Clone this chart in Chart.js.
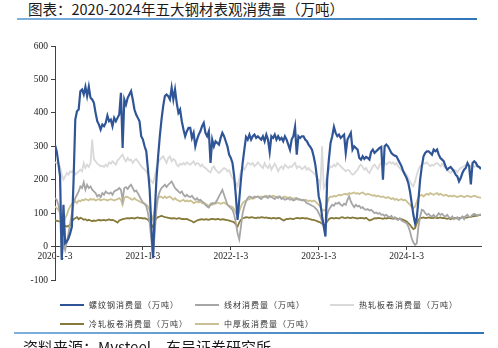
<!DOCTYPE html>
<html lang="zh-CN">
<head>
    <meta charset="UTF-8">
    <title>五大钢材表观消费量</title>
    <script src="https://cdn.jsdelivr.net/npm/chart.js"></script>
    <style>
        html, body { margin: 0; padding: 0; }
        body { width: 498px; height: 348px; overflow: hidden; background: #fff; position: relative; font-family: "Noto Sans CJK SC", sans-serif; }
        .title { position: absolute; left: 28px; top: -2px; font-size: 14.5px; color: #1a1a1a; white-space: nowrap; }
        .rule { position: absolute; height: 2px; background: linear-gradient(to right, #7fb0de, #2e75b6); }
        .rule.top { left: 17px; top: 18px; width: 460px; }
        .rule.bottom { left: 14px; top: 332px; width: 470px; }
        .source { position: absolute; left: 23px; top: 336px; font-size: 15px; color: #1a1a1a; white-space: nowrap; }
        .chart-box { position: absolute; left: 0; top: 30px; width: 498px; height: 268px; }
        #legend { position: absolute; left: 60px; top: 295px; display: grid; grid-template-columns: 135px 135px 135px; grid-auto-rows: 19px; }
        .item { display: flex; align-items: center; font-size: 8px; letter-spacing: 1px; color: #333; white-space: nowrap; }
        .item i { display: inline-block; width: 24px; height: 2px; margin-right: 5px; }
    </style>
</head>
<body>
    <div class="title">图表：2020-2024年五大钢材表观消费量（万吨）</div>
    <div class="rule top"></div>

    <div class="chart-box"><canvas id="steelChart" width="498" height="268"></canvas></div>
    <div id="legend"></div>

    <div class="rule bottom"></div>
    <div class="source">资料来源：Mysteel，东吴证券研究所</div>

    <script>
        // 周度数据，第 0 周为 2020-1-3
        const tickLabels = ['2020-1-3', '2021-1-3', '2022-1-3', '2023-1-3', '2024-1-3'];
        const tickWeeks = [0, 52, 104, 156, 208];

        const rebar = [
            304,285,250,210,-40,125,10,15,25,40, 60,200,380,405,410,465,470,455,478,450,
            478,445,440,430,400,375,365,350,365,360, 370,392,375,380,360,385,375,385,395,460,
            295,440,425,445,455,465,440,410,395,385, 375,330,320,300,285,230,170,60,-35,100,
            200,270,330,380,420,450,455,450,440,475, 440,470,430,400,410,375,350,330,345,355,
            355,325,340,300,320,335,345,360,370,340, 330,345,250,320,300,315,310,305,325,340,
            330,315,300,275,265,250,210,150,80,140, 200,250,290,328,320,335,320,330,335,325,
            330,325,320,330,315,335,320,283,330,325, 335,320,330,320,325,315,330,320,305,290,
            320,330,358,275,330,325,330,330,320,315, 305,298,290,270,245,205,150,130,90,60,
            30,200,260,310,330,358,340,330,335,325, 330,335,280,320,330,340,290,300,295,290,
            265,260,270,262,268,265,260,283,290,280, 285,290,295,298,200,300,305,300,290,280,
            275,272,270,260,250,240,225,215,205,190, 165,130,95,70,85,140,200,240,270,280,
            285,285,280,275,290,285,290,275,265,260, 255,240,230,235,238,232,225,215,210,195,
            205,220,230,235,250,240,186,250,255,250, 240,238,232
        ];
        const wireRod = [
            145,140,125,100,-35,10,-10,15,40,70, 100,130,145,155,165,180,175,192,170,185,
            175,180,170,165,160,150,155,148,160,155, 165,160,158,162,155,165,168,170,175,170,
            140,175,178,172,180,185,175,165,168,160, 150,140,132,128,120,100,70,20,-30,40,
            110,150,165,175,180,185,178,185,190,195, 185,175,170,165,160,165,155,150,155,150,
            148,152,145,140,145,138,140,135,130,125, 120,117,125,130,128,132,140,150,160,170,
            155,140,125,120,115,110,95,70,40,22, 60,100,120,135,145,150,148,145,150,148,
            150,145,142,148,150,148,145,152,148,145, 142,148,145,150,142,145,140,142,145,140,
            142,138,140,145,142,140,138,140,135,130, 128,125,122,120,115,110,100,90,75,60,
            55,95,110,118,125,122,130,128,132,125, 122,128,125,140,150,135,125,118,125,120,
            122,115,118,112,110,112,108,110,105,100, 102,98,100,95,96,92,95,90,88,92,
            85,88,82,80,85,78,75,72,70,60, 45,25,12,5,10,60,90,110,108,100,
            95,98,92,90,95,88,92,100,95,98, 92,90,95,88,85,90,82,85,88,80,
            85,90,82,92,95,88,90,95,98,95, 92,95,96
        ];
        const hotCoil = [
            252,250,245,240,215,200,210,220,215,225, 222,230,215,220,225,230,225,250,235,245,
            238,250,320,262,255,248,245,240,242,238, 245,240,252,248,255,250,245,258,262,270,
            275,262,255,265,258,260,250,258,262,255, 248,240,235,230,225,215,205,195,190,210,
            235,250,260,265,270,260,250,265,270,255, 262,258,245,240,248,245,250,245,252,248,
            245,250,255,245,250,248,240,245,238,235, 230,225,222,235,240,230,225,220,225,230,
            235,232,225,228,215,205,200,190,180,205, 225,238,230,240,250,248,245,250,240,245,
            252,245,240,235,250,240,235,245,230,240, 248,238,225,235,240,232,245,240,235,240,
            238,245,250,235,240,238,232,235,240,230, 235,228,225,220,215,205,200,180,300,175,
            185,215,230,240,238,245,240,250,245,240, 235,230,225,230,228,220,215,218,225,230,
            240,245,238,230,235,225,220,230,240,245, 238,232,245,250,255,252,245,250,253,248,
            252,245,250,240,235,228,225,222,215,205, 195,185,180,195,215,230,240,245,250,248,
            252,245,240,245,242,248,250,245,240,248, 240,235,230,225,220,225,230,228,222,230,
            235,238,240,245,248,242,240,245,238,242, 240,236,232
        ];
        const coldCoil = [
            78,77,76,75,72,65,62,60,62,65, 75,82,85,88,82,86,84,80,82,78,
            80,78,76,78,77,78,80,78,79,80, 78,80,81,79,80,78,75,72,78,80,
            82,83,84,85,84,86,85,84,86,87, 85,86,84,85,83,80,75,65,58,75,
            85,88,90,92,90,88,87,86,85,84, 85,84,83,85,84,82,83,82,83,80,
            78,76,72,75,78,80,81,82,80,82, 81,80,82,83,82,81,83,82,80,82,
            81,80,79,78,76,75,72,66,60,72, 80,85,86,88,87,86,88,87,86,85,
            87,86,88,87,86,87,85,86,84,86, 85,84,86,85,82,78,80,83,82,84,
            83,82,84,86,85,84,86,85,84,85, 83,82,80,80,78,76,74,72,68,65,
            66,75,82,85,86,84,86,85,84,87, 88,86,85,87,86,85,87,86,85,84,
            85,86,85,84,86,82,78,80,82,85, 84,86,85,84,83,85,84,86,85,84,
            83,85,84,82,83,82,80,78,75,70, 65,58,52,55,70,80,85,86,87,85,
            86,87,86,85,86,87,85,86,87,85, 86,84,83,85,82,84,85,86,84,85,
            86,87,88,86,87,88,89,90,91,92, 93,94,95
        ];
        const plate = [
            120,115,110,100,75,70,85,95,110,120, 128,132,135,130,138,135,140,138,142,140,
            138,143,140,142,138,140,142,138,140,142, 140,138,140,142,140,138,140,142,145,140,
            125,145,150,148,145,142,140,145,140,138, 135,132,130,128,125,120,110,95,80,110,
            135,145,150,148,145,150,145,148,150,145, 140,145,140,138,135,138,140,135,138,135,
            138,135,130,132,135,132,135,130,132,128, 125,120,128,125,130,128,132,130,128,130,
            132,128,125,122,120,118,112,100,90,105, 120,130,135,138,140,142,145,143,145,148,
            150,148,150,148,150,152,150,148,150,152, 150,148,150,148,145,148,150,147,145,148,
            145,143,145,142,140,142,140,138,140,138, 136,138,135,138,135,130,125,118,110,108,
            110,130,145,150,148,152,150,152,155,153, 155,157,158,155,160,158,160,162,158,160,
            157,160,162,158,155,158,156,155,152,154, 150,152,150,148,150,147,145,148,145,142,
            145,140,143,138,140,142,138,140,136,130, 125,118,115,120,135,148,152,155,150,155,
            158,155,160,157,155,158,160,155,158,155, 152,155,153,150,152,150,153,150,148,150,
            152,150,148,150,152,150,148,150,152,150, 148,147,146
        ];

        const seriesNames = ['螺纹钢消费量（万吨）', '线材消费量（万吨）', '热轧板卷消费量（万吨）', '冷轧板卷消费量（万吨）', '中厚板消费量（万吨）'];
        const seriesColors = ['#2f5597', '#a6a6a6', '#d9d9d9', '#857a3a', '#cbc092'];
        const seriesData = [rebar, wireRod, hotCoil, coldCoil, plate];

        const toPoints = (values) => values.map((v, i) => ({ x: i, y: v }));
        const axisFont = { family: "'Liberation Serif', 'Times New Roman', serif", size: 9.5 };

        const datasets = seriesData.map((values, k) => ({
            label: seriesNames[k],
            data: toPoints(values),
            borderColor: seriesColors[k],
            backgroundColor: seriesColors[k],
            borderWidth: k === 0 ? 2.2 : 1.8,
            pointRadius: 0,
            tension: 0,
            fill: false
        }));

        new Chart(document.getElementById('steelChart'), {
            type: 'line',
            data: { datasets },
            options: {
                responsive: false,
                animation: false,
                layout: { padding: { top: 16, right: 17, bottom: 18, left: 0 } },
                plugins: { legend: { display: false }, tooltip: { enabled: false } },
                scales: {
                    x: {
                        type: 'linear',
                        position: { y: 0 },
                        min: 0,
                        max: rebar.length - 1,
                        afterFit: (scale) => { scale.height = 0; },
                        afterBuildTicks: (scale) => { scale.ticks = tickWeeks.map(v => ({ value: v })); },
                        grid: { display: true, drawOnChartArea: false, drawTicks: true, tickLength: 3, color: '#404040' },
                        border: { display: true, color: '#404040', width: 1 },
                        ticks: {
                            autoSkip: false,
                            maxRotation: 0,
                            padding: 1,
                            color: '#222',
                            font: axisFont,
                            callback: (value) => tickLabels[tickWeeks.indexOf(value)]
                        }
                    },
                    y: {
                        min: -100,
                        max: 600,
                        afterFit: (scale) => { scale.width = 55; },
                        grid: { display: true, drawOnChartArea: false, drawTicks: true, tickLength: 4, color: '#404040' },
                        border: { display: true, color: '#404040', width: 1 },
                        ticks: { stepSize: 100, padding: 3, color: '#222', font: axisFont }
                    }
                }
            }
        });

        // 图例：三列排布
        document.getElementById('legend').innerHTML = seriesNames.map((name, k) =>
            `<div class="item"><i style="background:${seriesColors[k]}"></i>${name}</div>`
        ).join('');
    </script>
</body>
</html>
